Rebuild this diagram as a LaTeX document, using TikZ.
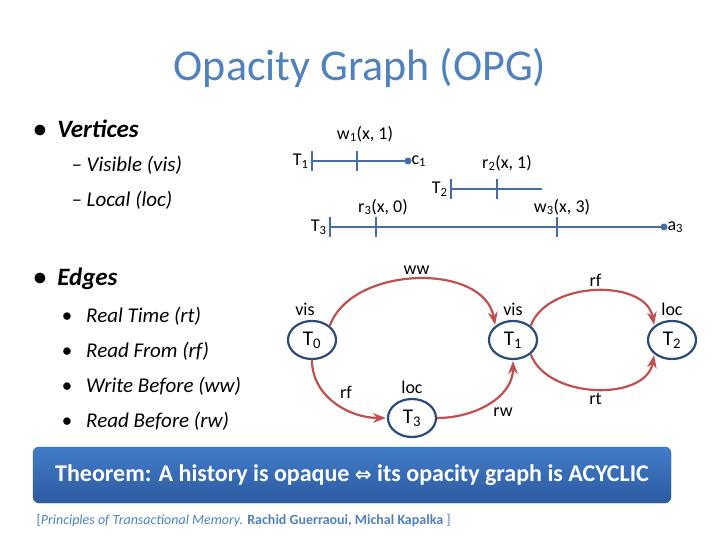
\documentclass[tikz,border=0pt]{standalone}
\usepackage{fontspec}
\setmainfont{Carlito}
\usepackage{tikz}
\usetikzlibrary{arrows.meta,positioning,shapes.geometric}
\definecolor{titleblue}{RGB}{79,129,189}
\definecolor{lineblue}{RGB}{70,110,165}
\definecolor{nodeblue}{RGB}{45,75,120}
\definecolor{edgered}{RGB}{190,80,80}
\definecolor{boxtop}{RGB}{65,125,200}
\definecolor{boxbot}{RGB}{45,90,160}

\begin{document}
\begin{tikzpicture}[x=1pt,y=-1pt,>=Stealth,
    txn/.style={draw=nodeblue,line width=2.2pt,ellipse,minimum width=48pt,minimum height=38pt,font=\fontsize{21}{23}\selectfont,inner sep=0pt},
    hist/.style={draw=lineblue,line width=2.2pt},
    tick/.style={draw=lineblue,line width=1.8pt},
    lbl/.style={font=\fontsize{18}{20}\selectfont},
    edge/.style={draw=edgered,line width=2.2pt,->,shorten >=1pt}]
  \useasboundingbox (0,0) rectangle (720,540);

  % title and bullets
  \node[text=titleblue,font=\fontsize{44}{46}\selectfont] (title) at (360,68) {Opacity Graph (OPG)};
  \node[anchor=west,font=\fontsize{25}{27}\selectfont\bfseries\itshape] (vert) at (30,129) {\textbullet\ \ Vertices};
  \node[anchor=west,font=\fontsize{21}{23}\selectfont\itshape] (vis) at (68,165) {-- Visible (vis)};
  \node[anchor=west,font=\fontsize{21}{23}\selectfont\itshape] (loc) at (68,200) {-- Local (loc)};
  \node[anchor=west,font=\fontsize{25}{27}\selectfont\bfseries\itshape] (edg) at (30,279) {\textbullet\ \ Edges};
  \foreach \t [count=\i] in {Real Time (rt),Read From (rf),Write Before (ww),Read Before (rw)}
    \node[anchor=west,font=\fontsize{21}{23}\selectfont\itshape] (e\i) at (58,281+35*\i) {\textbullet\ \ \ \t};

  % histories
  \coordinate (h1a) at (312,161); \coordinate (h1b) at (408,161);
  \coordinate (h2a) at (451,189); \coordinate (h2b) at (542,189);
  \coordinate (h3a) at (330,227); \coordinate (h3b) at (664,227);
  \draw[hist] (h1a) -- (h1b); \draw[hist] (h2a) -- (h2b); \draw[hist] (h3a) -- (h3b);
  \fill[lineblue] (h1b) circle (3.5pt); \fill[lineblue] (h3b) circle (3.5pt);
  \foreach \x/\y in {312/161,357/161,451/189,497/189,330/227,376/227,557/227}
    \draw[tick] (\x,\y-10) -- (\x,\y+10);
  \node[lbl,anchor=east] (t1) at (h1a) {T\textsubscript{1}};
  \node[lbl,anchor=east] (t2) at (h2a) {T\textsubscript{2}};
  \node[lbl,anchor=east] (t3) at (h3a) {T\textsubscript{3}};
  \node[lbl,anchor=west] (c1) at (h1b) {c\textsubscript{1}};
  \node[lbl,anchor=west] (a3) at (h3b) {a\textsubscript{3}};
  \node[lbl] (w1) at (365,134) {w\textsubscript{1}(x, 1)};
  \node[lbl] (r2) at (507,163) {r\textsubscript{2}(x, 1)};
  \node[lbl] (r3) at (383,207) {r\textsubscript{3}(x, 0)};
  \node[lbl] (w3) at (562,207) {w\textsubscript{3}(x, 3)};

  % opacity graph
  \node[txn] (T0) at (312,340) {T\textsubscript{0}};
  \node[txn] (T1) at (513,340) {T\textsubscript{1}};
  \node[txn] (T2) at (672,340) {T\textsubscript{2}};
  \node[txn] (T3) at (412,418) {T\textsubscript{3}};
  \node[lbl,above=1pt of T0,xshift=-7pt] (v0) {vis};
  \node[lbl,above=1pt of T1] (v1) {vis};
  \node[lbl,above=1pt of T2] (l2) {loc};
  \node[lbl,above=1pt of T3] (l3) {loc};

  \draw[edge] (T0.north east) to[out=70,in=100,looseness=1] node[lbl,above] {ww} (T1.north west);
  \draw[edge] (T1.north east) to[out=70,in=100,looseness=1] node[lbl,above] {rf} (T2.north west);
  \draw[edge] (T1.south east) to[out=-70,in=-100,looseness=1] node[lbl,below] {rt} (T2.south west);
  \draw[edge] (T0.south) to[out=-90,in=180] node[lbl,above right] {rf} (T3.west);
  \draw[edge] (T3.east) to[out=0,in=-90] node[lbl,below right] {rw} (T1.south);

  % theorem box
  \node[draw=boxbot,rounded corners=6pt,top color=boxtop,bottom color=boxbot,
        minimum width=638pt,minimum height=56pt,text=white,
        font=\fontsize{24}{26}\selectfont\bfseries] (thm) at (352,475)
        {Theorem: A history is opaque {\fontspec{DejaVu Sans}\fontsize{20}{22}\selectfont⇔} its opacity graph is ACYCLIC};
  \node[anchor=west,text=titleblue,font=\fontsize{14}{16}\selectfont] (cite) at (33,521)
        {[\textit{Principles of Transactional Memory.} \textbf{Rachid Guerraoui, Michal Kapalka} ]};
\end{tikzpicture}
\end{document}
